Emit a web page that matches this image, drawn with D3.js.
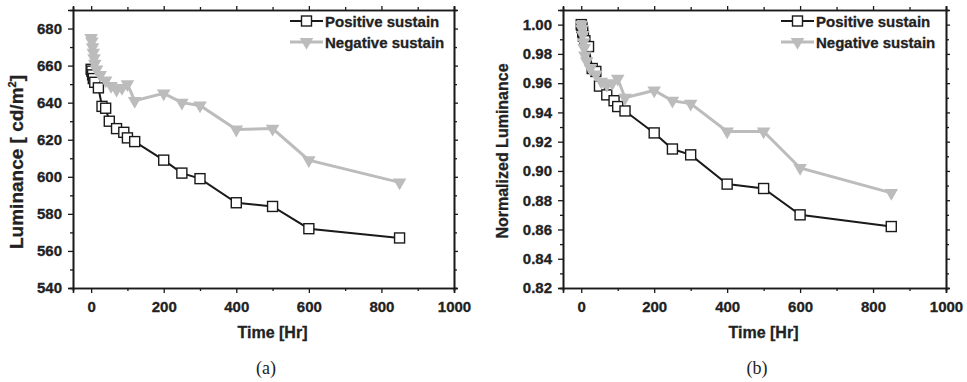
<!DOCTYPE html>
<html>
<head>
<meta charset="utf-8">
<script src="https://cdn.jsdelivr.net/npm/d3@7"></script>
<style>
  body { margin: 0; background: #fff; }
  svg text { font-family: "Liberation Sans", Arial, sans-serif; font-weight: bold; fill: #222; stroke: #222; stroke-width: 0.3px; }
</style>
</head>
<body>
<div class="chart"></div>
<script>
// data
const timePos = [0, 2, 4, 6, 10, 20, 30, 40, 50, 70, 90, 100, 120, 200, 250, 300, 400, 500, 600, 850];
const lumPos  = [658, 657, 655, 653, 651, 648, 638, 637, 630, 626, 624, 621, 619, 609, 602, 599, 586, 584, 572, 567];
const normPos = [1.000, 0.998, 0.995, 0.992, 0.989, 0.985, 0.970, 0.968, 0.958, 0.952, 0.948, 0.944, 0.941, 0.926, 0.915, 0.911, 0.891, 0.888, 0.870, 0.862];

const timeNeg = [0, 2, 4, 6, 8, 10, 15, 25, 40, 55, 70, 85, 100, 120, 200, 250, 300, 400, 500, 600, 850];
const lumNeg  = [675, 673, 670, 667, 664, 661, 658, 655, 652, 649, 647, 648, 650, 641, 645, 640, 638.5, 625.5, 626, 609, 597];
const normNeg = [1.000, 0.997, 0.993, 0.988, 0.984, 0.979, 0.975, 0.970, 0.966, 0.961, 0.959, 0.960, 0.963, 0.950, 0.955, 0.948, 0.946, 0.927, 0.927, 0.902, 0.885];

const xTicks = [0, 200, 400, 600, 800, 1000];
const xMinor = [100, 300, 500, 700, 900];
const yTicksA = [540, 560, 580, 600, 620, 640, 660, 680];
const yMinorA = [550, 570, 590, 610, 630, 650, 670];
const yTicksB = [0.82, 0.84, 0.86, 0.88, 0.90, 0.92, 0.94, 0.96, 0.98, 1.00];
const yMinorB = [0.83, 0.85, 0.87, 0.89, 0.91, 0.93, 0.95, 0.97, 0.99];

const seriesNames = ["Positive sustain", "Negative sustain"];

const w = 967, h = 382;
const svg = d3.select('.chart').append('svg')
    .attr('width', w)
    .attr('height', h);

const black = "#1a1a1a", grey = "#bcbcbc";

function drawPanel(p) {
    const x = d3.scaleLinear().domain([-50, 1000]).range([p.left, p.left + p.width]);
    const y = d3.scaleLinear().domain(p.yDomain).range([p.top + p.height, p.top]);
    const g = svg.append('g');

    // axes: major + minor on all four sides
    const bottom = p.top + p.height, right = p.left + p.width;
    g.append('g').attr('transform', `translate(0,${bottom})`)
        .call(d3.axisBottom(x).tickValues(xTicks).tickSize(5).tickPadding(8).tickFormat(d3.format('d')));
    g.append('g').attr('transform', `translate(0,${bottom})`)
        .call(d3.axisBottom(x).tickValues(xMinor).tickSize(3).tickFormat(''));
    g.append('g').attr('transform', `translate(0,${p.top})`)
        .call(d3.axisTop(x).tickValues(xTicks).tickSize(4).tickFormat(''));
    g.append('g').attr('transform', `translate(0,${p.top})`)
        .call(d3.axisTop(x).tickValues(xMinor).tickSize(3).tickFormat(''));
    g.append('g').attr('transform', `translate(${p.left},0)`)
        .call(d3.axisLeft(y).tickValues(p.yTicks).tickSize(5).tickPadding(6).tickFormat(p.yFormat));
    g.append('g').attr('transform', `translate(${p.left},0)`)
        .call(d3.axisLeft(y).tickValues(p.yMinor).tickSize(3).tickFormat(''));
    g.append('g').attr('transform', `translate(${right},0)`)
        .call(d3.axisRight(y).tickValues(p.yTicks).tickSize(4).tickFormat(''));
    g.append('g').attr('transform', `translate(${right},0)`)
        .call(d3.axisRight(y).tickValues(p.yMinor).tickSize(3).tickFormat(''));

    g.selectAll('.domain').attr('stroke', black).attr('stroke-width', 1.6);
    g.selectAll('.tick line').attr('stroke', black).attr('stroke-width', 1.3);
    g.selectAll('.tick text').attr('font-size', 15).attr('fill', '#222');

    const line = d3.line().x(d => x(d[0])).y(d => y(d[1]));
    const pos = timePos.map((t, i) => [t, p.pos[i]]);
    const neg = timeNeg.map((t, i) => [t, p.neg[i]]);

    // positive sustain
    g.append('path').datum(pos).attr('d', line)
        .attr('fill', 'none').attr('stroke', black).attr('stroke-width', 2);
    g.selectAll('rect.pos').data(pos).enter().append('rect')
        .attr('class', 'pos')
        .attr('x', d => x(d[0]) - 5).attr('y', d => y(d[1]) - 5)
        .attr('width', 10).attr('height', 10)
        .attr('fill', '#fff').attr('stroke', black).attr('stroke-width', 1.4);

    // negative sustain
    const tri = d3.symbol().type(d3.symbolTriangle).size(80);
    g.append('path').datum(neg).attr('d', line)
        .attr('fill', 'none').attr('stroke', grey).attr('stroke-width', 3);
    g.selectAll('path.neg').data(neg).enter().append('path')
        .attr('class', 'neg')
        .attr('d', tri)
        .attr('transform', d => `translate(${x(d[0])},${y(d[1])}) rotate(180)`)
        .attr('fill', grey);

    // legend
    const lx = p.legendX;
    [0, 1].forEach(i => {
        const ly = 21 + i * 21;
        g.append('line').attr('x1', lx).attr('x2', lx + 33).attr('y1', ly).attr('y2', ly)
            .attr('stroke', i === 0 ? black : grey).attr('stroke-width', i === 0 ? 2 : 3);
        if (i === 0) {
            g.append('rect').attr('x', lx + 11.5).attr('y', ly - 5).attr('width', 10).attr('height', 10)
                .attr('fill', '#fff').attr('stroke', black).attr('stroke-width', 1.4);
        } else {
            g.append('path').attr('d', tri).attr('transform', `translate(${lx + 16.5},${ly}) rotate(180)`)
                .attr('fill', grey);
        }
        g.append('text').attr('x', lx + 35).attr('y', ly + 5.5)
            .attr('font-size', 15).text(seriesNames[i]);
    });

    // axis titles
    g.append('text').attr('x', p.left + p.width / 2 + 9).attr('y', 338)
        .attr('text-anchor', 'middle').attr('font-size', 16).text('Time [Hr]');
    const yl = g.append('text')
        .attr('transform', `translate(${p.yLabelX},${p.yLabelY}) rotate(-90)`)
        .attr('text-anchor', 'middle').attr('font-size', p.yLabelSize);
    p.yLabel(yl);

    // panel letter
    svg.append('text').attr('x', p.letterX).attr('y', 374)
        .attr('text-anchor', 'middle')
        .style('font-family', '"Liberation Serif", "Times New Roman", serif')
        .style('font-weight', 'normal')
        .style('stroke', 'none')
        .attr('font-size', 18).text(p.letter);
}

drawPanel({
    left: 73, top: 10, width: 381, height: 278,
    yDomain: [540, 690], yTicks: yTicksA, yMinor: yMinorA, yFormat: d3.format('d'),
    pos: lumPos, neg: lumNeg, legendX: 290,
    yLabelX: 23, yLabelY: 162, yLabelSize: 19,
    yLabel: t => {
        t.append('tspan').text('Luminance [ cd/m');
        t.append('tspan').attr('dy', -7).attr('font-size', 11).text('2');
        t.append('tspan').attr('dy', 7).text(']');
    },
    letter: '(a)', letterX: 266
});

drawPanel({
    left: 563, top: 10, width: 383, height: 278,
    yDomain: [0.82, 1.01], yTicks: yTicksB, yMinor: yMinorB, yFormat: d3.format('.2f'),
    pos: normPos, neg: normNeg, legendX: 781,
    yLabelX: 508, yLabelY: 151, yLabelSize: 16,
    yLabel: t => t.text('Normalized Luminance'),
    letter: '(b)', letterX: 757
});
</script>
</body>
</html>
